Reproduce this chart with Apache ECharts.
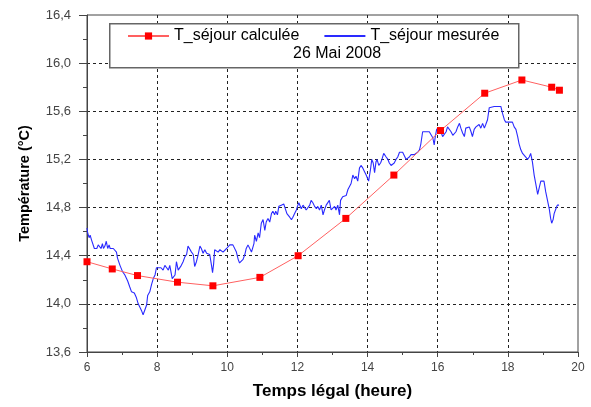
<!DOCTYPE html>
<html>
<head>
<meta charset="utf-8">
<script src="https://cdn.jsdelivr.net/npm/echarts@6.0.0/dist/echarts.min.js"></script>
<style>
  html, body { margin: 0; padding: 0; background: #fff; }
  #chart { width: 591px; height: 407px; }
</style>
</head>
<body>
<div id="chart"></div>
<script>
// T_séjour calculée (points)
const calcHours = [6.0, 6.72, 7.44, 8.58, 9.59, 10.93, 12.02, 13.38, 14.75, 16.08, 17.34, 18.40, 19.25, 19.47];
const calcTemp  = [14.35, 14.29, 14.235, 14.18, 14.15, 14.22, 14.40, 14.71, 15.07, 15.44, 15.75, 15.86, 15.80, 15.775];

// T_séjour mesurée (relevé)
const mesHours = [
  6.00, 6.02, 6.06, 6.09, 6.13, 6.18, 6.21, 6.25, 6.28, 6.32, 6.36, 6.40, 6.44, 6.47, 6.51, 6.55, 6.59, 6.63, 6.66, 6.70,
  6.75, 6.80, 6.84, 6.87, 6.94, 7.01, 7.08, 7.16, 7.22, 7.27, 7.35, 7.41, 7.46, 7.51, 7.56, 7.60, 7.65, 7.70, 7.73, 7.79,
  7.84, 7.89, 7.94, 7.98, 8.03, 8.11, 8.17, 8.22, 8.27, 8.32, 8.36, 8.43, 8.51, 8.55, 8.60, 8.65, 8.69, 8.74, 8.79, 8.84,
  8.88, 8.93, 8.98, 9.03, 9.07, 9.12, 9.17, 9.22, 9.26, 9.31,
  9.36, 9.41, 9.45, 9.50, 9.55, 9.58, 9.61, 9.64, 9.69, 9.74, 9.79, 9.83, 9.88, 9.93, 9.98, 10.02, 10.07, 10.12, 10.16, 10.21,
  10.26, 10.31, 10.35, 10.40, 10.45, 10.50, 10.54, 10.59, 10.64, 10.69, 10.73, 10.76, 10.78, 10.83, 10.88, 10.92, 10.97, 11.02, 11.07, 11.11,
  11.16, 11.21, 11.26, 11.30, 11.35, 11.38, 11.43, 11.47, 11.54, 11.61, 11.66, 11.70, 11.78, 11.83, 11.87, 11.92, 11.97, 12.00, 12.04, 12.11,
  12.16, 12.20, 12.25, 12.30, 12.35, 12.39, 12.44,
  12.49, 12.54, 12.58, 12.63, 12.68, 12.73, 12.77, 12.82, 12.87, 12.91, 12.96, 13.01, 13.06, 13.10, 13.15, 13.20, 13.23, 13.29, 13.34, 13.39,
  13.44, 13.48, 13.53, 13.58, 13.63, 13.67, 13.72, 13.77, 13.82, 13.86, 13.91, 13.96, 14.01, 14.03, 14.08, 14.12, 14.16, 14.20, 14.24, 14.27,
  14.32, 14.37, 14.41, 14.46, 14.50, 14.53, 14.58, 14.62, 14.67, 14.72, 14.76, 14.81, 14.86, 14.91, 14.95, 15.00, 15.05, 15.10, 15.14, 15.19,
  15.24, 15.29, 15.33, 15.38, 15.43, 15.48, 15.52, 15.57, 15.67,
  15.76, 15.81, 15.86, 15.90, 15.93, 15.97, 16.03, 16.09, 16.14, 16.19, 16.24, 16.28, 16.33, 16.38, 16.43, 16.47, 16.52, 16.57, 16.62, 16.66,
  16.71, 16.76, 16.80, 16.85, 16.90, 16.95, 16.99, 17.04, 17.09, 17.14, 17.18, 17.23, 17.28, 17.33, 17.37, 17.42, 17.47, 17.52, 17.61, 17.71,
  17.80, 17.85, 17.90, 17.94, 18.04, 18.13, 18.18, 18.23, 18.28, 18.32, 18.37, 18.42, 18.47, 18.51, 18.56, 18.61, 18.65, 18.70, 18.75, 18.80,
  18.85, 18.89, 18.94, 18.99, 19.03, 19.08, 19.13, 19.18, 19.22, 19.25, 19.29, 19.32, 19.37, 19.41, 19.46
];
const mesTemp = [
  14.63, 14.59, 14.55, 14.57, 14.53, 14.52, 14.46, 14.45, 14.46, 14.49, 14.48, 14.46, 14.50, 14.46, 14.48, 14.52, 14.46, 14.49, 14.46, 14.45,
  14.46, 14.45, 14.43, 14.38, 14.32, 14.27, 14.24, 14.19, 14.14, 14.10, 14.09, 14.05, 14.00, 13.99, 13.94, 13.91, 13.91, 13.99, 14.07, 14.10,
  14.16, 14.21, 14.24, 14.30, 14.30, 14.30, 14.28, 14.32, 14.30, 14.28, 14.32, 14.21, 14.24, 14.35, 14.28, 14.27, 14.32, 14.35, 14.39, 14.41,
  14.48, 14.49, 14.43, 14.41, 14.31, 14.35, 14.41, 14.48, 14.46, 14.42,
  14.45, 14.42, 14.43, 14.41, 14.32, 14.26, 14.33, 14.45, 14.46, 14.43, 14.45, 14.46, 14.43, 14.42, 14.46, 14.45, 14.49, 14.50, 14.49, 14.48,
  14.43, 14.37, 14.34, 14.34, 14.37, 14.41, 14.46, 14.49, 14.48, 14.43, 14.42, 14.50, 14.57, 14.52, 14.59, 14.55, 14.67, 14.70, 14.61, 14.68,
  14.71, 14.68, 14.75, 14.77, 14.74, 14.77, 14.74, 14.81, 14.82, 14.83, 14.82, 14.75, 14.72, 14.70, 14.72, 14.75, 14.78, 14.81, 14.84, 14.79,
  14.82, 14.81, 14.78, 14.79, 14.82, 14.86, 14.84,
  14.81, 14.79, 14.81, 14.78, 14.82, 14.74, 14.78, 14.82, 14.81, 14.86, 14.78, 14.79, 14.81, 14.78, 14.82, 14.74, 14.86, 14.89, 14.90, 14.90,
  14.95, 14.96, 15.00, 15.07, 15.04, 15.06, 15.02, 15.13, 15.15, 15.13, 15.10, 15.07, 15.07, 15.02, 15.11, 15.20, 15.17, 15.09, 15.18, 15.20,
  15.15, 15.17, 15.20, 15.25, 15.26, 15.22, 15.20, 15.17, 15.15, 15.15, 15.17, 15.20, 15.22, 15.26, 15.26, 15.26, 15.26, 15.20, 15.20, 15.22,
  15.24, 15.24, 15.24, 15.24, 15.26, 15.28, 15.33, 15.43, 15.43,
  15.43, 15.42, 15.38, 15.32, 15.39, 15.45, 15.46, 15.43, 15.39, 15.39, 15.43, 15.47, 15.46, 15.43, 15.40, 15.39, 15.43, 15.47, 15.50, 15.46,
  15.42, 15.39, 15.46, 15.47, 15.47, 15.43, 15.39, 15.45, 15.47, 15.47, 15.49, 15.46, 15.50, 15.46, 15.49, 15.53, 15.63, 15.64, 15.64, 15.64,
  15.64, 15.58, 15.53, 15.51, 15.51, 15.51, 15.47, 15.45, 15.39, 15.33, 15.28, 15.25, 15.24, 15.22, 15.20, 15.22, 15.25, 15.18, 15.07, 14.99,
  14.91, 14.96, 15.02, 15.03, 15.02, 14.93, 14.86, 14.79, 14.71, 14.67, 14.70, 14.75, 14.79, 14.82, 14.82
];

const FONT = '"Liberation Sans", Arial, sans-serif';
const AXIS = '#444';

const calcData = calcHours.map((h, i) => [h, calcTemp[i]]);
const mesData = mesHours.map((h, i) => [h, mesTemp[i]]);

const gridLine = { show: true, showMinLine: false, showMaxLine: false, lineStyle: { type: [3, 3], color: '#222', width: 1 } };

const chart = echarts.init(document.getElementById('chart'));
chart.setOption({
  animation: false,
  textStyle: { fontFamily: FONT },
  grid: { left: 87, right: 13, top: 15, bottom: 55, show: true, borderColor: AXIS, borderWidth: 1 },
  // cadre de la légende
  graphic: [{
    type: 'rect', left: 109, top: 23, z: 3,
    shape: { width: 409, height: 44 },
    style: { fill: '#fff', stroke: '#666', lineWidth: 1.5 }
  }],
  title: {
    text: '26 Mai 2008', left: 293, top: 46, padding: 0, z: 6,
    textStyle: { fontFamily: FONT, fontSize: 16, fontWeight: 'normal', color: '#000' }
  },
  legend: {
    left: 127, top: 28, padding: 0, z: 5,
    itemWidth: 41, itemHeight: 9, itemGap: 24,
    data: [
      'T_séjour calculée',
      { name: 'T_séjour mesurée', itemStyle: { opacity: 0 } }
    ],
    textStyle: { fontFamily: FONT, fontSize: 16, color: '#000' }
  },
  xAxis: {
    type: 'value', min: 6, max: 20, interval: 2,
    name: 'Temps légal (heure)', nameLocation: 'middle', nameGap: 31,
    nameTextStyle: { fontFamily: FONT, fontSize: 17, fontWeight: 'bold', color: '#000' },
    axisLine: { show: true, onZero: false, lineStyle: { color: AXIS } },
    axisTick: { show: true, length: 5, lineStyle: { color: AXIS } },
    minorTick: { show: true, splitNumber: 2, length: 3, lineStyle: { color: AXIS } },
    axisLabel: { fontSize: 12, color: AXIS, margin: 10 },
    splitLine: gridLine
  },
  yAxis: {
    type: 'value', min: 13.6, max: 16.4, interval: 0.4,
    name: 'Température (°C)', nameLocation: 'middle', nameGap: 55,
    nameTextStyle: { fontFamily: FONT, fontSize: 14.5, fontWeight: 'bold', color: '#000' },
    axisLine: { show: true, lineStyle: { color: AXIS } },
    axisTick: { show: true, length: 8, lineStyle: { color: AXIS } },
    minorTick: { show: true, splitNumber: 2, length: 4, lineStyle: { color: AXIS } },
    axisLabel: { fontSize: 13, color: AXIS, margin: 16, formatter: v => v.toFixed(1).replace('.', ',') },
    splitLine: gridLine
  },
  series: [
    {
      name: 'T_séjour mesurée', type: 'line', data: mesData, z: 2,
      symbol: 'none', showSymbol: false,
      lineStyle: { color: '#2a2aff', width: 1.1 },
      itemStyle: { color: '#2a2aff' }
    },
    {
      name: 'T_séjour calculée', type: 'line', data: calcData, z: 3,
      symbol: 'rect', symbolSize: 7,
      lineStyle: { color: '#ff6060', width: 1 },
      itemStyle: { color: '#ff0000' }
    }
  ]
});
</script>
</body>
</html>
